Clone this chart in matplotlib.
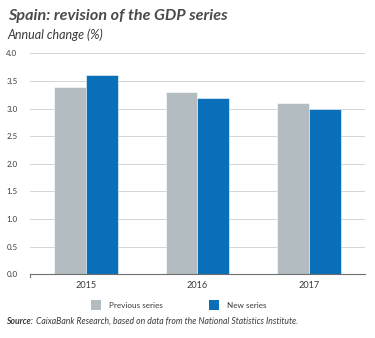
import numpy as np
import matplotlib.pyplot as plt
from matplotlib.patches import Rectangle

plt.rcParams["font.family"] = ["Lato", "DejaVu Sans"]

years = ["2015", "2016", "2017"]
previous = [3.4, 3.3, 3.1]
new = [3.6, 3.2, 3.0]
yticks = [0.0, 0.5, 1.0, 1.5, 2.0, 2.5, 3.0, 3.5, 4.0]

GREY = "#b3bcc1"
BLUE = "#0a6fb9"
TEXT = "#3a3a3a"

fig = plt.figure(figsize=(3.75, 3.38), dpi=100)
ax = fig.add_axes([0.08, 0.189, 0.893, 0.653])

x = np.arange(len(years))
w = 0.285
ax.bar(x - w / 2, previous, w, color=GREY, edgecolor="white", linewidth=0.4, zorder=3)
ax.bar(x + w / 2, new, w, color=BLUE, edgecolor="white", linewidth=0.4, zorder=3)

ax.set_xlim(-0.5, 2.5)
ax.set_ylim(0, 4.0)
ax.set_yticks(yticks)
ax.set_yticklabels([f"{v:.1f}" for v in yticks], fontsize=5.8, color=TEXT)
ax.set_xticks(x)
ax.set_xticklabels(years, fontsize=6.6, color=TEXT)
ax.tick_params(axis="y", length=0, pad=9)
ax.tick_params(axis="x", length=0, pad=5)
ax.grid(axis="y", color="#d4d4d4", linewidth=0.7, zorder=0)
for s in ["top", "right", "left"]:
    ax.spines[s].set_visible(False)
ax.spines["bottom"].set_color("#6e6e6e")
ax.spines["bottom"].set_linewidth(0.8)
ax.spines["bottom"].set_zorder(4)
# small tick at the left end of the baseline
ax.plot([0, 0], [0, -0.012], transform=ax.transAxes, color="#6e6e6e",
        linewidth=0.8, clip_on=False, zorder=4)

fig.text(0.021, 0.952, "Spain: revision of the GDP series", fontsize=11.6,
         fontweight="bold", fontstyle="italic", color="#4a4a4a", va="center")
fig.text(0.019, 0.896, "Annual change (%)", fontsize=9.0,
         fontstyle="italic", color=TEXT, va="center")

# legend
for px, label, c in [(0.243, "Previous series", GREY), (0.558, "New series", BLUE)]:
    fig.patches.append(Rectangle((px, 0.082), 0.026, 0.029, transform=fig.transFigure,
                                 facecolor=c, edgecolor="none"))
    fig.text(px + 0.048, 0.097, label, fontsize=5.9, color=TEXT, va="center")

fig.text(0.016, 0.05, "Source:", fontsize=6.2, fontweight="bold",
         fontstyle="italic", color=TEXT, va="center")
fig.text(0.096, 0.05, "CaixaBank Research, based on data from the National Statistics Institute.",
         fontsize=6.2, fontstyle="italic", color=TEXT, va="center")

fig.savefig("out.png", dpi=100)
